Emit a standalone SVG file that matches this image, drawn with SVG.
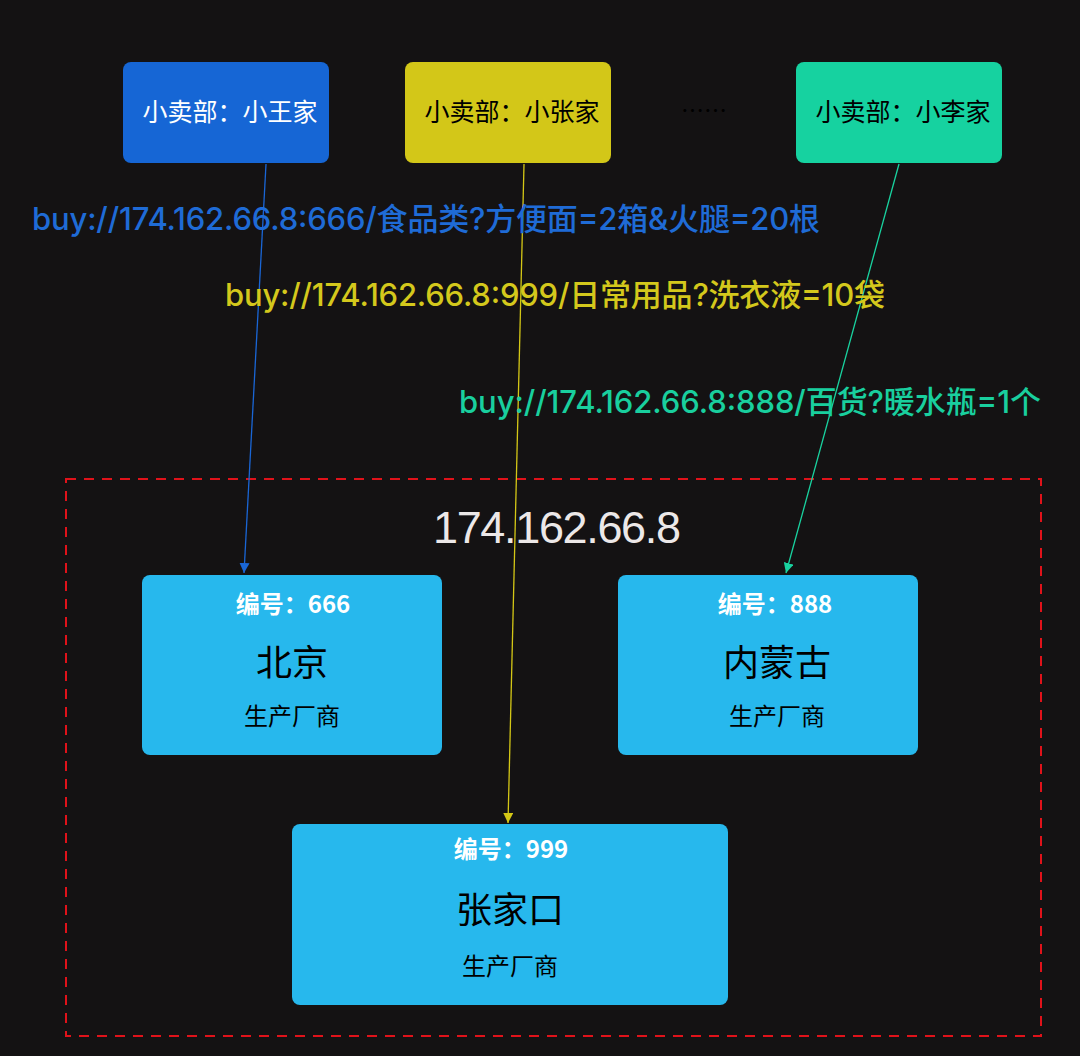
<svg xmlns="http://www.w3.org/2000/svg" width="1080" height="1056" viewBox="0 0 1080 1056">
<defs>
<style>
.cjk{font-family:"Noto Sans CJK SC","Liberation Sans",sans-serif;text-anchor:middle}
.lat{font-family:"Liberation Sans","Noto Sans CJK SC",sans-serif}
.shop{font-size:25px}
.num{font-size:24px;font-weight:bold;fill:#ffffff}
.city{font-size:36px;fill:#000000}
.kind{font-size:24px;fill:#000000}
.fac{fill:#27b8ed}
.url{font-family:Inter,"Noto Sans CJK SC",sans-serif;font-size:31px;font-weight:500}
</style>
<marker id="ab" viewBox="0 0 10 10" refX="10" refY="5" markerWidth="10" markerHeight="10" markerUnits="userSpaceOnUse" orient="auto"><path d="M0,0 L10,5 L0,10 z" fill="#1a66d6"/></marker>
<marker id="ay" viewBox="0 0 10 10" refX="10" refY="5" markerWidth="10" markerHeight="10" markerUnits="userSpaceOnUse" orient="auto"><path d="M0,0 L10,5 L0,10 z" fill="#d4c716"/></marker>
<marker id="ag" viewBox="0 0 10 10" refX="10" refY="5" markerWidth="10" markerHeight="10" markerUnits="userSpaceOnUse" orient="auto"><path d="M0,0 L10,5 L0,10 z" fill="#19d3a0"/></marker>
</defs>
<rect x="0" y="0" width="1080" height="1056" fill="#141213"/>

<g id="server">
<rect x="66" y="479" width="975" height="557" fill="none" stroke="#e0121a" stroke-width="2" stroke-dasharray="10 8"/>
<text class="lat" x="557" y="543" font-size="45" fill="#ece8e8" text-anchor="middle" textLength="248" lengthAdjust="spacing">174.162.66.8</text>
</g>

<g id="shop-wang">
<rect x="123" y="62" width="206" height="101" rx="8" fill="#1666d5"/>
<text class="cjk shop" x="230" y="121" fill="#ffffff">小卖部：小王家</text>
</g>
<g id="shop-zhang">
<rect x="405" y="62" width="206" height="101" rx="8" fill="#d3c718"/>
<text class="cjk shop" x="512" y="121" fill="#000000">小卖部：小张家</text>
</g>
<g id="ellipsis">
<text class="cjk" x="704" y="119" font-size="23" fill="#000000">……</text>
</g>
<g id="shop-li">
<rect x="796" y="62" width="206" height="101" rx="8" fill="#16d2a0"/>
<text class="cjk shop" x="903" y="121" fill="#000000">小卖部：小李家</text>
</g>

<g id="factory-666">
<rect class="fac" x="142" y="575" width="300" height="180" rx="8"/>
<text class="cjk num" x="293" y="613">编号：666</text>
<text class="cjk city" x="292" y="676">北京</text>
<text class="cjk kind" x="292" y="725">生产厂商</text>
</g>
<g id="factory-888">
<rect class="fac" x="618" y="575" width="300" height="180" rx="8"/>
<text class="cjk num" x="775" y="613">编号：888</text>
<text class="cjk city" x="777" y="676">内蒙古</text>
<text class="cjk kind" x="777" y="725">生产厂商</text>
</g>
<g id="factory-999">
<rect class="fac" x="292" y="824" width="436" height="181" rx="8"/>
<text class="cjk num" x="511" y="858">编号：999</text>
<text class="cjk city" x="510" y="923">张家口</text>
<text class="cjk kind" x="510" y="975">生产厂商</text>
</g>

<g id="connectors" fill="none" stroke-width="1.3">
<line x1="266" y1="164" x2="244" y2="573" stroke="#1a66d6" marker-end="url(#ab)"/>
<line x1="524" y1="164" x2="508" y2="823" stroke="#d4c716" marker-end="url(#ay)"/>
<line x1="899" y1="164" x2="786" y2="573" stroke="#19d3a0" marker-end="url(#ag)"/>
</g>

<g id="labels">
<text class="url" x="32" y="230" fill="#1f6bd6" textLength="788" lengthAdjust="spacing">buy://174.162.66.8:666/食品类?方便面=2箱&amp;火腿=20根</text>
<text class="url" x="225" y="306" fill="#d4c81c" textLength="660" lengthAdjust="spacing">buy://174.162.66.8:999/日常用品?洗衣液=10袋</text>
<text class="url" x="459" y="413" fill="#19cf9e" textLength="582" lengthAdjust="spacing">buy://174.162.66.8:888/百货?暖水瓶=1个</text>
</g>
</svg>
